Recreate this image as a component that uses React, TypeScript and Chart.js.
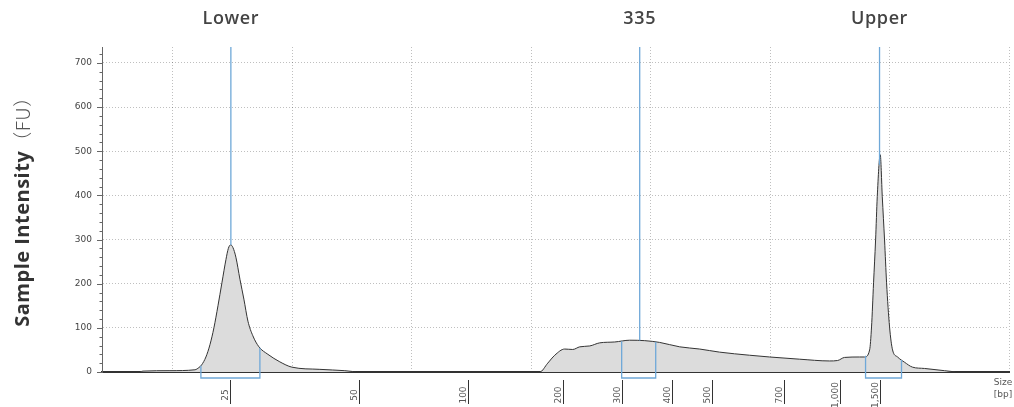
import React, { useEffect, useRef } from 'react';
import { Chart, registerables } from 'chart.js';
Chart.register(...registerables);

// migration position (arbitrary units) and fluorescence intensity (FU)
const xPos = [7.24, 7.49, 9.75, 11.84, 12.17, 12.4, 12.76, 13.1, 13.43, 13.77, 14.1, 14.44, 14.64, 14.83, 15.02, 15.27, 15.61, 15.94, 16.28, 16.69, 17.2, 17.95, 18.95, 19.96, 22.3, 24.39, 25.65, 29.0, 35.0, 40.71, 41.38, 41.97, 42.8, 43.47, 44.06, 44.9, 45.73, 46.99, 48.24, 49.5, 50.75, 52.43, 54.1, 55.77, 58.28, 59.96, 62.47, 64.98, 65.65, 66.23, 67.49, 67.91, 68.33, 68.49, 68.66, 68.83, 68.97, 69.22, 69.39, 69.58, 69.75, 70.0, 70.25, 70.67, 71.26, 71.92, 72.93, 74.6, 75.86, 79.62];
const intensity = [0, 2, 3, 5, 10, 16, 34, 62, 100, 150, 202, 255, 280, 288, 282, 260, 210, 165, 115, 82, 57, 40, 23, 11, 6, 3, 0, 0, 0, 0, 20, 38, 52, 51, 57, 59, 66, 68, 72, 71, 67, 57, 52, 45, 38, 34, 29, 25, 26, 33, 34, 34, 50, 102, 202, 299, 397, 492, 397, 299, 202, 102, 50, 34, 22, 11, 8, 3, 0, 0];

const bpLabels = ['25', '50', '100', '200', '300', '400', '500', '700', '1,000', '1,500'];
const bpPos = [14.77, 25.56, 34.69, 42.64, 47.57, 51.76, 55.1, 61.13, 65.82, 69.16];

const markerNames = ['Lower', '335', 'Upper'];
const markerPos = [14.85, 49.08, 69.16];
const bracketStart = [12.34, 47.57, 67.99];
const bracketEnd = [17.28, 50.42, 71.0];

const yTicks = [0, 100, 200, 300, 400, 500, 600, 700];

function valueAt(u: number): number {
  for (let i = 0; i < xPos.length - 1; i++) {
    if (u >= xPos[i] && u <= xPos[i + 1]) {
      const t = (u - xPos[i]) / (xPos[i + 1] - xPos[i]);
      return intensity[i] + t * (intensity[i + 1] - intensity[i]);
    }
  }
  return 0;
}

const overlay = {
  id: 'overlay',
  afterDatasetsDraw(chart: any) {
    const ctx = chart.ctx;
    const xs = chart.scales.x;
    const ys = chart.scales.y;
    const a = chart.chartArea;
    ctx.save();
    // y minor/major ticks
    ctx.strokeStyle = '#666';
    ctx.lineWidth = 1;
    for (let v = 0; v <= 720; v += 20) {
      const y = Math.round(ys.getPixelForValue(v)) + 0.5;
      const len = v % 100 === 0 ? 5 : 2.5;
      ctx.beginPath();
      ctx.moveTo(a.left - len, y);
      ctx.lineTo(a.left, y);
      ctx.stroke();
    }
    // markers
    ctx.strokeStyle = '#6fa8d8';
    ctx.lineWidth = 1.3;
    markerPos.forEach((m) => {
      const x = xs.getPixelForValue(m);
      ctx.beginPath();
      ctx.moveTo(x, a.top);
      ctx.lineTo(x, ys.getPixelForValue(valueAt(m)));
      ctx.stroke();
    });
    // brackets
    const by = a.bottom + 6;
    bracketStart.forEach((s, i) => {
      const e = bracketEnd[i];
      const x1 = xs.getPixelForValue(s);
      const x2 = xs.getPixelForValue(e);
      ctx.beginPath();
      ctx.moveTo(x1, ys.getPixelForValue(valueAt(s)));
      ctx.lineTo(x1, by);
      ctx.lineTo(x2, by);
      ctx.lineTo(x2, ys.getPixelForValue(valueAt(e)));
      ctx.stroke();
    });
    // bp ticks
    ctx.strokeStyle = '#333';
    ctx.lineWidth = 1;
    ctx.fillStyle = '#555';
    ctx.font = '9px "DejaVu Sans"';
    bpPos.forEach((p, i) => {
      const x = Math.round(xs.getPixelForValue(p)) + 0.5;
      ctx.beginPath();
      ctx.moveTo(x, a.bottom + 8);
      ctx.lineTo(x, a.bottom + 32);
      ctx.stroke();
      ctx.save();
      ctx.translate(x - 5, a.bottom + 23);
      ctx.rotate(-Math.PI / 2);
      ctx.textAlign = 'center';
      ctx.textBaseline = 'middle';
      ctx.fillText(bpLabels[i], 0, 0);
      ctx.restore();
    });
    // Size [bp]
    ctx.textAlign = 'center';
    ctx.textBaseline = 'middle';
    ctx.fillText('Size', 1003, 383);
    ctx.fillText('[bp]', 1003, 395);
    // marker titles
    ctx.fillStyle = '#444';
    ctx.font = '600 18px "Open Sans"';
    (ctx as any).letterSpacing = '0.6px';
    markerPos.forEach((m, i) => {
      ctx.fillText(markerNames[i], xs.getPixelForValue(m), 19);
    });
    // y title
    ctx.save();
    ctx.translate(23, 207);
    ctx.rotate(-Math.PI / 2);
    ctx.textAlign = 'left';
    ctx.textBaseline = 'middle';
    const boldFont = 'bold 20px "Open Sans"';
    const lightFont = '300 19px "Noto Sans CJK SC"';
    const t1 = 'Sample Intensity';
    const t2 = '（FU）';
    (ctx as any).letterSpacing = '0.5px';
    ctx.font = boldFont;
    const w1 = ctx.measureText(t1).width;
    ctx.font = lightFont;
    const w2 = ctx.measureText(t2).width;
    const start = -(w1 + w2) / 2;
    ctx.font = boldFont;
    ctx.fillStyle = '#333';
    ctx.fillText(t1, start, 0);
    ctx.font = lightFont;
    ctx.fillStyle = '#555';
    ctx.fillText(t2, start + w1, 0);
    ctx.restore();
    ctx.restore();
  },
};

export default function App() {
  const ref = useRef<HTMLCanvasElement>(null);
  useEffect(() => {
    const data = xPos.map((x, i) => ({ x, y: intensity[i] }));
    const chart = new Chart(ref.current!, {
      type: 'scatter',
      data: {
        datasets: [
          {
            data,
            showLine: true,
            fill: 'origin',
            backgroundColor: '#dcdcdc',
            borderColor: '#333',
            borderWidth: 1,
            pointRadius: 0,
            cubicInterpolationMode: 'monotone',
          } as any,
        ],
      },
      options: {
        animation: false,
        responsive: true,
        maintainAspectRatio: false,
        layout: { padding: { left: 0, right: 5, top: 47, bottom: 0 } },
        plugins: { legend: { display: false }, tooltip: { enabled: false } },
        scales: {
          x: {
            type: 'linear',
            min: 4.06,
            max: 80,
            ticks: { display: false, stepSize: 10 },
            afterBuildTicks: (s: any) => {
              s.ticks = s.ticks.filter((t: any) => Math.abs(t.value % 10) < 1e-6);
            },
            afterFit: (s: any) => {
              s.height = 35;
            },
            grid: { color: 'rgba(0,0,0,0.25)', drawTicks: false } as any,
            border: { display: true, color: '#333', width: 2, dash: [1, 2] } as any,
          },
          y: {
            type: 'linear',
            min: 0,
            max: 736,
            afterBuildTicks: (s: any) => {
              s.ticks = yTicks.map((v) => ({ value: v }));
            },
            afterFit: (s: any) => {
              s.width = 102;
            },
            ticks: { color: '#444', font: { family: 'DejaVu Sans', size: 9 }, padding: 10 },
            grid: {
              color: (c: any) => (c.tick && c.tick.value === 0 ? 'rgba(0,0,0,0)' : 'rgba(0,0,0,0.25)'),
              drawTicks: false,
            } as any,
            border: { display: true, color: '#666', width: 1, dash: [1, 2] } as any,
          },
        },
      },
      plugins: [overlay],
    });
    return () => chart.destroy();
  }, []);
  return (
    <div style={{ position: 'fixed', left: 0, top: 0, width: 1014, height: 407, background: '#fff' }}>
      <canvas ref={ref} />
    </div>
  );
}
